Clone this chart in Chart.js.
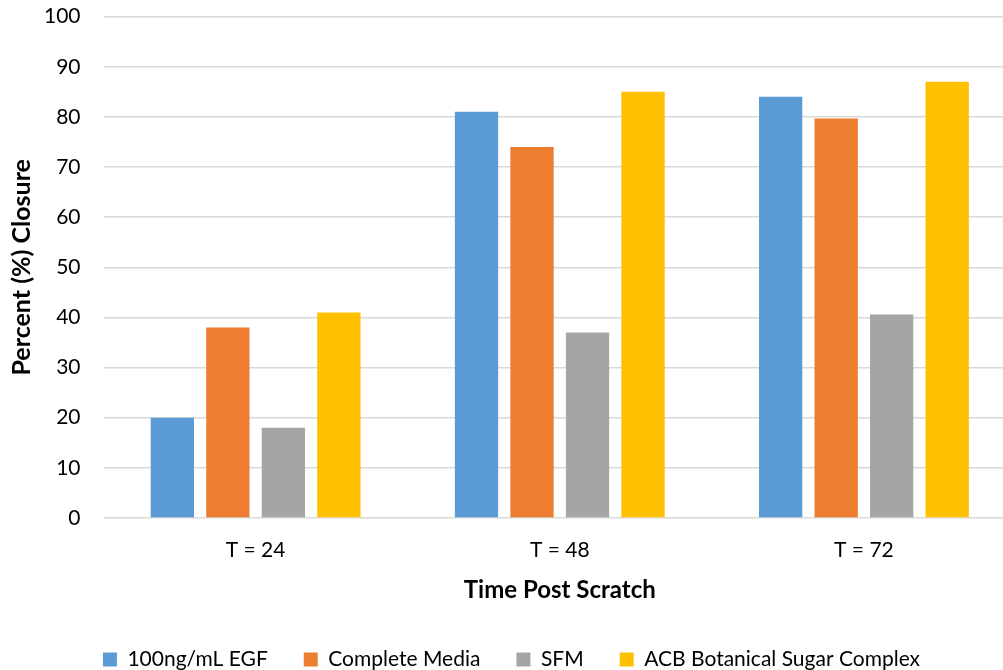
<!DOCTYPE html>
<html>
<head>
<meta charset="utf-8">
<script src="https://cdn.jsdelivr.net/npm/chart.js@4/dist/chart.umd.min.js"></script>
<style>
  html, body { margin: 0; padding: 0; background: #fff; overflow: hidden; }
  /* the reference plot runs past the right edge, so the canvas is a bit wider than the window */
  #wrap { width: 1016px; height: 670px; }
</style>
</head>
<body>
<div id="wrap"><canvas id="chart"></canvas></div>
<script>
const categories = ["T = 24", "T = 48", "T = 72"];
const egf = [20, 81, 84];
const completeMedia = [38, 74, 79.7];
const sfm = [18, 37, 40.6];
const acb = [41, 85, 87];
const seriesNames = ["100ng/mL EGF", "Complete Media", "SFM", "ACB Botanical Sugar Complex"];
const seriesColors = ["#5b9bd5", "#ed7d31", "#a5a5a5", "#ffc000"];

const font = "Lato, 'Open Sans', sans-serif";

const chart = new Chart(document.getElementById("chart"), {
  type: "bar",
  data: {
    labels: categories,
    datasets: [egf, completeMedia, sfm, acb].map((vals, i) => ({
      label: seriesNames[i],
      data: vals,
      backgroundColor: seriesColors[i],
      barPercentage: 0.78,
      categoryPercentage: 0.73
    }))
  },
  options: {
    responsive: true,
    maintainAspectRatio: false,
    animation: false,
    layout: { padding: { top: 0, right: 0, left: 7, bottom: -10 } },
    plugins: {
      legend: {
        position: "bottom",
        labels: {
          boxWidth: 14,
          boxHeight: 14,
          padding: 36,
          color: "#000",
          font: { family: font, size: 21 }
        }
      },
      tooltip: { enabled: false }
    },
    scales: {
      x: {
        grid: { display: false, tickLength: 20 },
        border: { display: false },
        ticks: { color: "#000", font: { family: font, size: 21 }, padding: 0 },
        title: {
          display: true,
          text: "Time Post Scratch",
          color: "#000",
          font: { family: font, size: 24, weight: "bold" },
          padding: { top: 13, bottom: 8 }
        }
      },
      y: {
        min: 0,
        max: 100,
        ticks: { stepSize: 10, color: "#000", font: { family: font, size: 21 }, padding: 4 },
        grid: { color: "#d9d9d9", lineWidth: 1.5, drawTicks: true, tickLength: 19, tickColor: "rgba(0,0,0,0)" },
        border: { display: false },
        title: {
          display: true,
          text: "Percent (%) Closure",
          color: "#000",
          font: { family: font, size: 25, weight: "bold" },
          padding: { top: 0, bottom: 3 }
        }
      }
    }
  }
});
</script>
</body>
</html>
